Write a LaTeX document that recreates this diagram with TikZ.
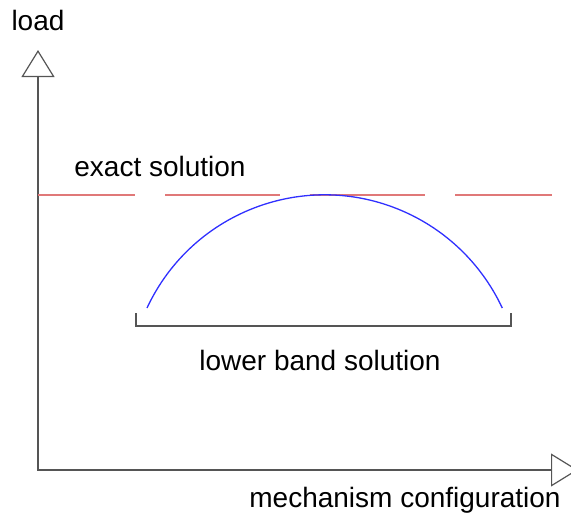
\documentclass[tikz,border=0pt]{standalone}
\usepackage{fontspec}
\setmainfont{Liberation Sans}
\usetikzlibrary{arrows.meta}
\definecolor{axisgray}{HTML}{555555}
\definecolor{exactred}{HTML}{E07878}
\definecolor{bandblue}{HTML}{3030FF}
\tikzset{
  axistext/.style={
    font=\fontsize{28}{32}\selectfont,
    anchor=base,
    inner sep=0pt
  },
  axisline/.style={
    draw=axisgray,
    line width=1.4pt,
    {Triangle[open, length=27pt, width=33pt, line width=1.2pt]}-{Triangle[open, length=27pt, width=33pt, line width=1.2pt]}
  },
  exact/.style={
    draw=exactred,
    line width=1.4pt,
    dash pattern=on 115pt off 30pt,
    dash phase=18pt
  },
  band/.style={
    draw=bandblue,
    line width=1.3pt
  },
  bracket/.style={
    draw=axisgray,
    line width=1.6pt
  }
}

\begin{document}
\begin{tikzpicture}[x=1pt, y=-1pt]
\useasboundingbox (0,0) rectangle (571,515);

% axes, drawn as one path so the corner joins
\coordinate (ytip) at (38,50);
\coordinate (xtip) at (578,470);
\draw[axisline] (ytip) |- (xtip);

\node[axistext] (loadlabel) at (38,30) {load};
\node[axistext] (configlabel) at (405,507) {mechanism configuration};

% exact solution level
\coordinate (exactstart) at (38,195);
\coordinate (exactend) at (552,195);
\draw[exact] (exactstart) -- (exactend);
\node[axistext] (exactlabel) at (160,176) {exact solution};

% lower band: arc over the bracket
\coordinate (arcstart) at (147,308);
\draw[band] (arcstart) arc[start angle=205, end angle=335, radius=196];

\coordinate (bracketleft) at (136,313);
\coordinate (bracketright) at (511,313);
\draw[bracket] (bracketleft) |- (511,326) -- (bracketright);
\node[axistext] (bandlabel) at (320,370) {lower band solution};

\end{tikzpicture}
\end{document}
